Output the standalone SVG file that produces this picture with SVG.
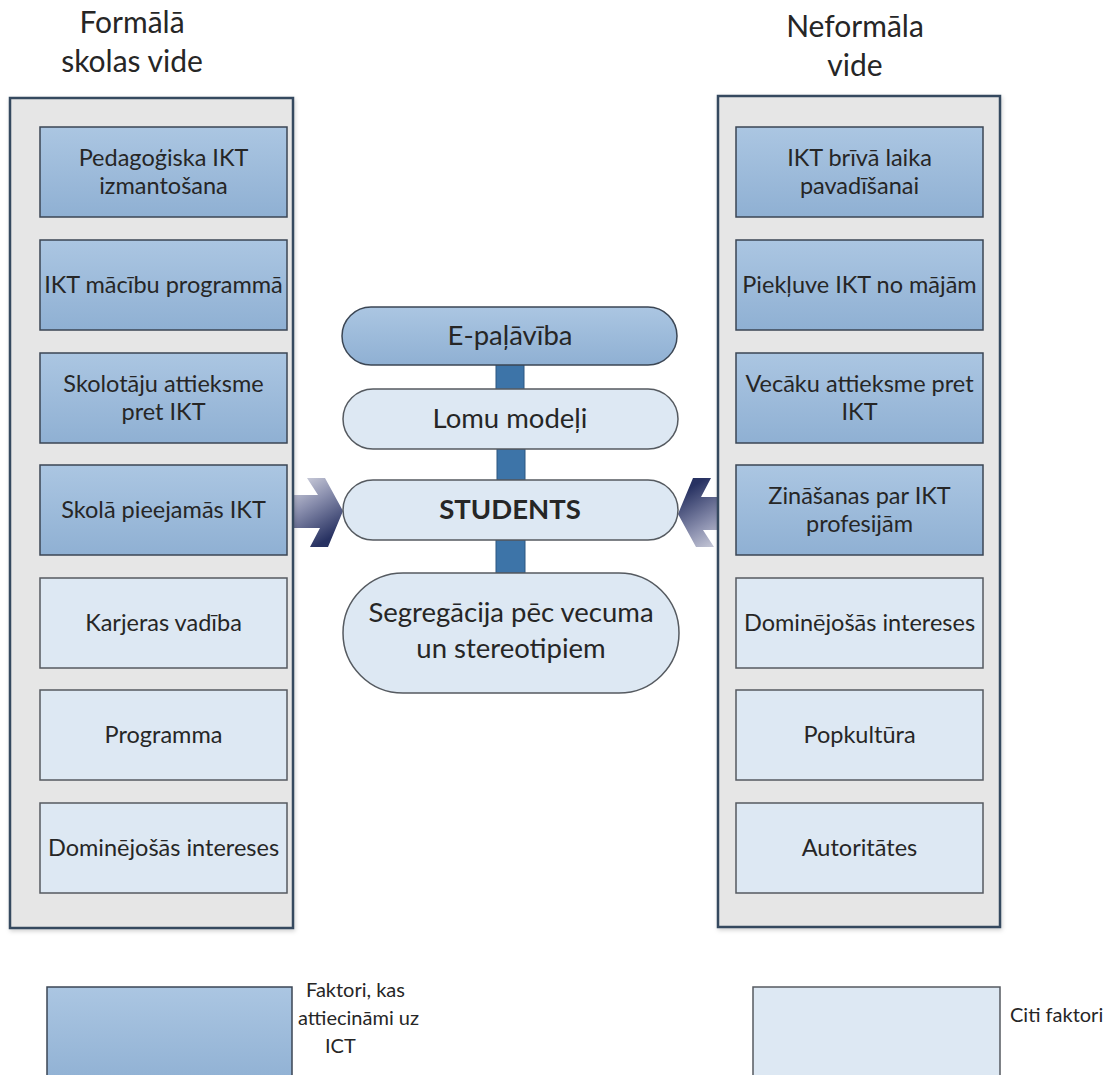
<svg xmlns="http://www.w3.org/2000/svg" width="1119" height="1075" viewBox="0 0 1119 1075">
<style>
text{font-family:Lato,"Open Sans","Liberation Sans",sans-serif;fill:#262626;text-anchor:middle}
.title{font-size:30px}
.bt{font-size:23.5px}
.pt{font-size:27.5px}
.lg{font-size:20px;text-anchor:start}
.cont{fill:#e6e6e6;stroke:#34495e;stroke-width:2.5}
.dark{fill:url(#gDark);stroke:#3b4654;stroke-width:1.5}
.light{fill:#dde8f3;stroke:#555a60;stroke-width:1.5}
.sq{fill:#3d74a8;stroke:#2c5680;stroke-width:1}
</style>
<defs>
<linearGradient id="gDark" x1="0" y1="0" x2="0" y2="1"><stop offset="0" stop-color="#abc6e2"/><stop offset="1" stop-color="#8fb0d3"/></linearGradient>
<linearGradient id="gArrow" x1="0" y1="0" x2="0.45" y2="1"><stop offset="0" stop-color="#d9dae4"/><stop offset="0.45" stop-color="#8a8fae"/><stop offset="1" stop-color="#283262"/></linearGradient>
<filter id="sh" x="-5%" y="-5%" width="110%" height="110%"><feDropShadow dx="1" dy="2" stdDeviation="2" flood-color="#000" flood-opacity="0.18"/></filter>
<polygon id="arr" points="292,495 318,495 307,478 325,478 343,511 328,547 310,547 320,528 292,528" fill="url(#gArrow)"/>
</defs>

<g id="connectors">
<use href="#arr"/>
<use href="#arr" transform="rotate(180 510.5 512.5)"/>
<rect class="sq" x="496" y="364" width="28" height="26"/>
<rect class="sq" x="497" y="449" width="28" height="31"/>
<rect class="sq" x="496" y="540" width="29" height="33"/>
</g>

<g id="left-title"><text class="title" x="132" y="33">Formālā</text><text class="title" x="132" y="72">skolas vide</text></g>
<g id="right-title"><text class="title" x="855" y="37">Neformāla</text><text class="title" x="855" y="76">vide</text></g>

<g id="left-container"><rect class="cont" x="10" y="98" width="283" height="830" filter="url(#sh)"/></g>
<g id="right-container"><rect class="cont" x="718" y="96" width="282" height="831" filter="url(#sh)"/></g>

<g id="l1"><rect class="dark" x="40" y="127" width="247" height="90"/><text class="bt" x="163.5" y="166">Pedagoģiska IKT</text><text class="bt" x="163.5" y="194">izmantošana</text></g>
<g id="l2"><rect class="dark" x="40" y="240" width="247" height="90"/><text class="bt" x="163.5" y="293">IKT mācību programmā</text></g>
<g id="l3"><rect class="dark" x="40" y="353" width="247" height="90"/><text class="bt" x="163.5" y="392">Skolotāju attieksme</text><text class="bt" x="163.5" y="420">pret IKT</text></g>
<g id="l4"><rect class="dark" x="40" y="465" width="247" height="90"/><text class="bt" x="163.5" y="518">Skolā pieejamās IKT</text></g>
<g id="l5"><rect class="light" x="40" y="578" width="247" height="90"/><text class="bt" x="163.5" y="631">Karjeras vadība</text></g>
<g id="l6"><rect class="light" x="40" y="690" width="247" height="90"/><text class="bt" x="163.5" y="743">Programma</text></g>
<g id="l7"><rect class="light" x="40" y="803" width="247" height="90"/><text class="bt" x="163.5" y="856">Dominējošās intereses</text></g>

<g id="r1"><rect class="dark" x="736" y="127" width="247" height="90"/><text class="bt" x="859.5" y="166">IKT brīvā laika</text><text class="bt" x="859.5" y="194">pavadīšanai</text></g>
<g id="r2"><rect class="dark" x="736" y="240" width="247" height="90"/><text class="bt" x="859.5" y="293">Piekļuve IKT no mājām</text></g>
<g id="r3"><rect class="dark" x="736" y="353" width="247" height="90"/><text class="bt" x="859.5" y="392">Vecāku attieksme pret</text><text class="bt" x="859.5" y="420">IKT</text></g>
<g id="r4"><rect class="dark" x="736" y="465" width="247" height="90"/><text class="bt" x="859.5" y="504">Zināšanas par IKT</text><text class="bt" x="859.5" y="532">profesijām</text></g>
<g id="r5"><rect class="light" x="736" y="578" width="247" height="90"/><text class="bt" x="859.5" y="631">Dominējošās intereses</text></g>
<g id="r6"><rect class="light" x="736" y="690" width="247" height="90"/><text class="bt" x="859.5" y="743">Popkultūra</text></g>
<g id="r7"><rect class="light" x="736" y="803" width="247" height="90"/><text class="bt" x="859.5" y="856">Autoritātes</text></g>

<g id="e-palaviba"><rect class="dark" x="342" y="307" width="335" height="58" rx="29"/><text class="pt" x="510" y="345">E-paļāvība</text></g>
<g id="lomu-modeli"><rect class="light" x="343" y="389" width="335" height="60" rx="30"/><text class="pt" x="510" y="428">Lomu modeļi</text></g>
<g id="students"><rect class="light" x="343" y="480" width="335" height="60" rx="30"/><text class="pt" x="510" y="519" font-weight="bold">STUDENTS</text></g>
<g id="segregacija"><rect class="light" x="343" y="573" width="336" height="120" rx="60"/><text class="pt" x="511" y="622">Segregācija pēc vecuma</text><text class="pt" x="511" y="658">un stereotipiem</text></g>

<g id="legend-ict"><rect class="dark" x="47" y="987" width="245" height="100"/><text class="lg" x="306" y="997">Faktori, kas</text><text class="lg" x="298" y="1025">attiecināmi uz</text><text class="lg" x="325" y="1053">ICT</text></g>
<g id="legend-other"><rect class="light" x="753" y="987" width="247" height="100"/><text class="lg" x="1010" y="1022">Citi faktori</text></g>
</svg>
